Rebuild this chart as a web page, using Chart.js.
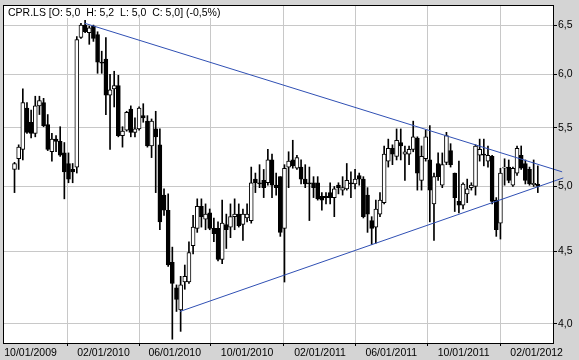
<!DOCTYPE html>
<html>
<head>
<meta charset="utf-8">
<script src="https://cdn.jsdelivr.net/npm/chart.js@4/dist/chart.umd.min.js"></script>
<style>
  body { margin: 0; background: #d4d4d4; }
  canvas { display: block; }
</style>
</head>
<body>
<canvas id="chart" width="579" height="360"></canvas>
<script>
// Weekly candles for CPR.LS, first week ending 2009-09-04
const firstWeek = '2009-09-04';
const opens  = [5.14,5.23,5.31,5.68,5.55,5.45,5.70,5.73,5.53,5.29,5.40,5.38,5.28,5.19,5.14,5.16,6.37,6.50,6.42,6.49,
                6.40,6.12,6.15,5.80,5.86,5.89,5.43,5.48,5.67,5.46,5.49,5.61,5.56,5.34,5.49,5.35,4.93,4.81,4.42,4.24,
                4.09,4.28,4.28,4.54,4.67,4.84,4.74,4.79,4.67,4.67,4.44,4.70,4.68,4.76,4.78,4.70,4.75,4.73,5.06,5.03,
                5.05,5.03,5.22,5.01,5.08,4.67,5.16,5.22,5.15,5.16,5.06,5.03,5.03,5.03,4.92,4.92,4.95,4.91,5.01,4.97,
                4.98,5.03,5.02,5.09,5.06,4.93,4.73,4.68,4.78,4.87,5.21,5.32,5.25,5.37,5.27,5.27,5.31,5.41,5.05,5.23,
                5.22,4.86,5.19,5.01,5.20,5.30,5.11,4.88,4.85,4.94,4.99,5.00,5.26,5.27,5.21,5.25,4.89,4.71,5.15,5.16,
                5.01,5.11,5.26,5.19,5.14,5.015,5.02];
const highs  = [5.20,5.35,5.86,5.73,5.66,5.79,5.79,5.77,5.62,5.45,5.43,5.51,5.37,5.28,5.19,6.38,6.52,6.55,6.49,6.50,
                6.43,6.23,6.37,6.00,6.03,5.99,5.51,5.65,5.70,5.59,5.69,5.72,5.61,5.58,5.65,5.49,4.98,4.94,4.53,4.26,
                4.32,4.40,4.57,4.77,4.90,4.90,4.86,4.82,4.75,4.72,4.89,4.78,4.86,4.90,4.86,4.82,4.86,5.16,5.11,5.18,
                5.14,5.31,5.27,5.11,5.08,5.18,5.29,5.39,5.26,5.22,5.18,5.16,5.08,5.08,4.95,4.95,5.03,5.00,5.03,5.08,
                5.19,5.12,5.14,5.11,5.08,4.99,4.76,4.89,4.95,5.34,5.40,5.35,5.49,5.49,5.34,5.34,5.56,5.42,5.34,5.48,
                5.52,5.11,5.28,5.28,5.46,5.36,5.11,5.21,5.03,5.06,5.03,5.35,5.40,5.40,5.34,5.26,4.91,5.15,5.23,5.22,
                5.16,5.34,5.34,5.22,5.16,5.22,5.17];
const lows   = [4.95,5.14,5.22,5.45,5.41,5.42,5.62,5.51,5.30,5.21,5.29,5.25,4.90,5.03,5.03,5.11,6.36,6.42,6.30,6.33,
                6.01,6.01,5.62,5.31,5.69,5.42,5.33,5.47,5.42,5.42,5.48,5.55,5.33,5.24,4.95,4.66,4.77,4.39,3.90,4.08,
                3.95,4.23,4.27,4.48,4.64,4.68,4.66,4.66,4.57,4.43,4.41,4.52,4.60,4.66,4.68,4.58,4.72,4.71,4.95,4.99,
                4.91,5.01,4.91,4.93,4.61,4.28,4.99,5.15,5.14,5.02,4.99,4.73,4.91,4.89,4.81,4.86,4.86,4.76,4.94,4.93,
                4.97,4.91,4.98,5.01,4.75,4.64,4.55,4.56,4.76,4.86,5.16,5.18,5.22,5.22,5.05,5.18,5.29,4.97,4.97,5.21,
                4.72,4.58,5.05,4.99,5.18,5.16,4.80,4.79,4.82,4.87,4.97,4.93,5.21,5.17,5.16,4.86,4.61,4.59,5.01,5.03,
                5.00,5.09,5.14,5.02,5.01,5.00,4.95];
const closes = [5.19,5.33,5.73,5.46,5.45,5.70,5.75,5.52,5.31,5.40,5.38,5.26,5.12,5.06,5.12,6.35,6.50,6.43,6.47,6.36,
                6.12,6.11,5.80,5.85,5.89,5.43,5.47,5.64,5.46,5.49,5.68,5.59,5.34,5.56,5.42,4.72,4.81,4.40,4.27,4.16,
                4.26,4.32,4.49,4.68,4.84,4.76,4.78,4.67,4.63,4.44,4.71,4.66,4.76,4.78,4.69,4.78,4.78,5.03,5.03,5.02,
                4.99,5.22,5.01,4.99,4.64,5.15,5.21,5.17,5.24,5.06,5.02,5.02,4.99,4.90,4.89,4.91,4.91,4.98,4.99,4.99,
                5.05,5.02,5.06,5.06,4.76,4.78,4.67,4.82,4.89,5.27,5.32,5.27,5.39,5.34,5.29,5.31,5.42,5.11,5.25,5.42,
                4.97,5.08,5.08,5.18,5.43,5.18,4.91,4.85,5.02,4.98,5.01,5.34,5.31,5.26,5.26,4.88,4.66,5.11,5.16,5.05,
                5.15,5.32,5.15,5.05,5.02,5.025,5.00];

// Triangle trend lines: [date, price] end points
const upperTrend = [['2009-12-31', 6.52], ['2012-03-15', 5.12]];
const lowerTrend = [['2010-06-10', 4.08], ['2012-03-17', 5.07]];

const xTickLabels = ['10/01/2009','02/01/2010','06/01/2010','10/01/2010','02/01/2011','06/01/2011','10/01/2011','02/01/2012'];
const yTicks = [4.0, 4.5, 5.0, 5.5, 6.0, 6.5];

const titleText = 'CPR.LS [O: 5,0  H: 5,2  L: 5,0  C: 5,0] (-0,5%)';
const font = { family: '"Liberation Sans", Arial, sans-serif', size: 10.5 };

function dayNum(iso) {
    return Date.parse(iso + 'T00:00:00Z') / 86400000;
}
function labelDay(label) {
    const [m, d, y] = label.split('/');
    return dayNum(`${y}-${m}-${d}`);
}

const start = dayNum(firstWeek);
const xs = opens.map((_, i) => start + 7 * i);
const bodies = xs.map((x, i) => ({ x: x, y: [opens[i], closes[i]] }));
const wicks = xs.map((x, i) => ({ x: x, y: [lows[i], highs[i]] }));
const bodyColors = opens.map((o, i) => closes[i] >= o ? '#ffffff' : '#000000');

const xMin = labelDay(xTickLabels[0]) - 46.4;
const xMax = xMin + 927;

// Background, title box and frame
const framePlugin = {
    id: 'frame',
    beforeDraw(chart) {
        const { ctx, chartArea: a } = chart;
        ctx.save();
        ctx.fillStyle = '#d4d4d4';
        ctx.fillRect(0, 0, chart.width, chart.height);
        ctx.fillStyle = '#ffffff';
        ctx.fillRect(a.left, a.top, a.right - a.left, a.bottom - a.top);
        ctx.restore();
    },
    beforeDatasetsDraw(chart) {
        const { ctx, chartArea: a } = chart;
        ctx.save();
        ctx.font = `${font.size}px ${font.family}`;
        const w = ctx.measureText(titleText).width;
        ctx.fillStyle = '#ffffff';
        ctx.fillRect(a.left + 1, a.top + 1, w + 8, 12);
        ctx.fillStyle = '#000000';
        ctx.textBaseline = 'middle';
        ctx.fillText(titleText, a.left + 5, a.top + 8);
        ctx.restore();
    },
    afterDraw(chart) {
        const { ctx, chartArea: a } = chart;
        ctx.save();
        ctx.strokeStyle = '#000000';
        ctx.lineWidth = 1;
        ctx.strokeRect(a.left + 0.5, a.top + 0.5, a.right - a.left, a.bottom - a.top);
        ctx.restore();
    }
};

const trendStyle = {
    type: 'line',
    borderColor: '#3050b4',
    borderWidth: 1,
    pointRadius: 0,
    tension: 0,
    clip: false,
    order: 0
};

new Chart(document.getElementById('chart'), {
    type: 'bar',
    data: {
        datasets: [
            Object.assign({ data: upperTrend.map(p => ({ x: dayNum(p[0]), y: p[1] })) }, trendStyle),
            Object.assign({ data: lowerTrend.map(p => ({ x: dayNum(p[0]), y: p[1] })) }, trendStyle),
            {
                data: bodies,
                backgroundColor: bodyColors,
                borderColor: '#000000',
                borderWidth: 1,
                borderSkipped: false,
                barThickness: 4,
                minBarLength: 1,
                grouped: false,
                order: 1
            },
            {
                data: wicks,
                backgroundColor: '#000000',
                borderWidth: 0,
                barThickness: 1,
                grouped: false,
                order: 2
            }
        ]
    },
    options: {
        responsive: false,
        animation: false,
        events: [],
        layout: { padding: { left: 3, top: 5, right: 0, bottom: 0 } },
        plugins: {
            legend: { display: false },
            tooltip: { enabled: false }
        },
        scales: {
            x: {
                type: 'linear',
                min: xMin,
                max: xMax,
                offset: false,
                afterBuildTicks: s => { s.ticks = xTickLabels.map(l => ({ value: labelDay(l) })); },
                afterFit: s => { s.height = 17; s.paddingLeft = 0; s.paddingRight = 0; },
                grid: { color: '#c8c8c8', tickLength: 3, tickColor: '#000000' },
                border: { display: false },
                ticks: {
                    autoSkip: false,
                    maxRotation: 0,
                    padding: 1,
                    color: '#000000',
                    font: font,
                    callback: (v, i) => xTickLabels[i]
                }
            },
            y: {
                type: 'logarithmic',
                position: 'right',
                min: 3.876,
                max: 6.716,
                afterBuildTicks: s => { s.ticks = yTicks.map(v => ({ value: v })); },
                afterFit: s => { s.width = 26; s.paddingTop = 0; s.paddingBottom = 0; },
                grid: { color: '#c8c8c8', tickLength: 4, tickColor: '#000000' },
                border: { display: false },
                ticks: {
                    padding: 1,
                    color: '#000000',
                    font: font,
                    callback: v => v.toFixed(1).replace('.', ',')
                }
            }
        }
    },
    plugins: [framePlugin]
});
</script>
</body>
</html>
